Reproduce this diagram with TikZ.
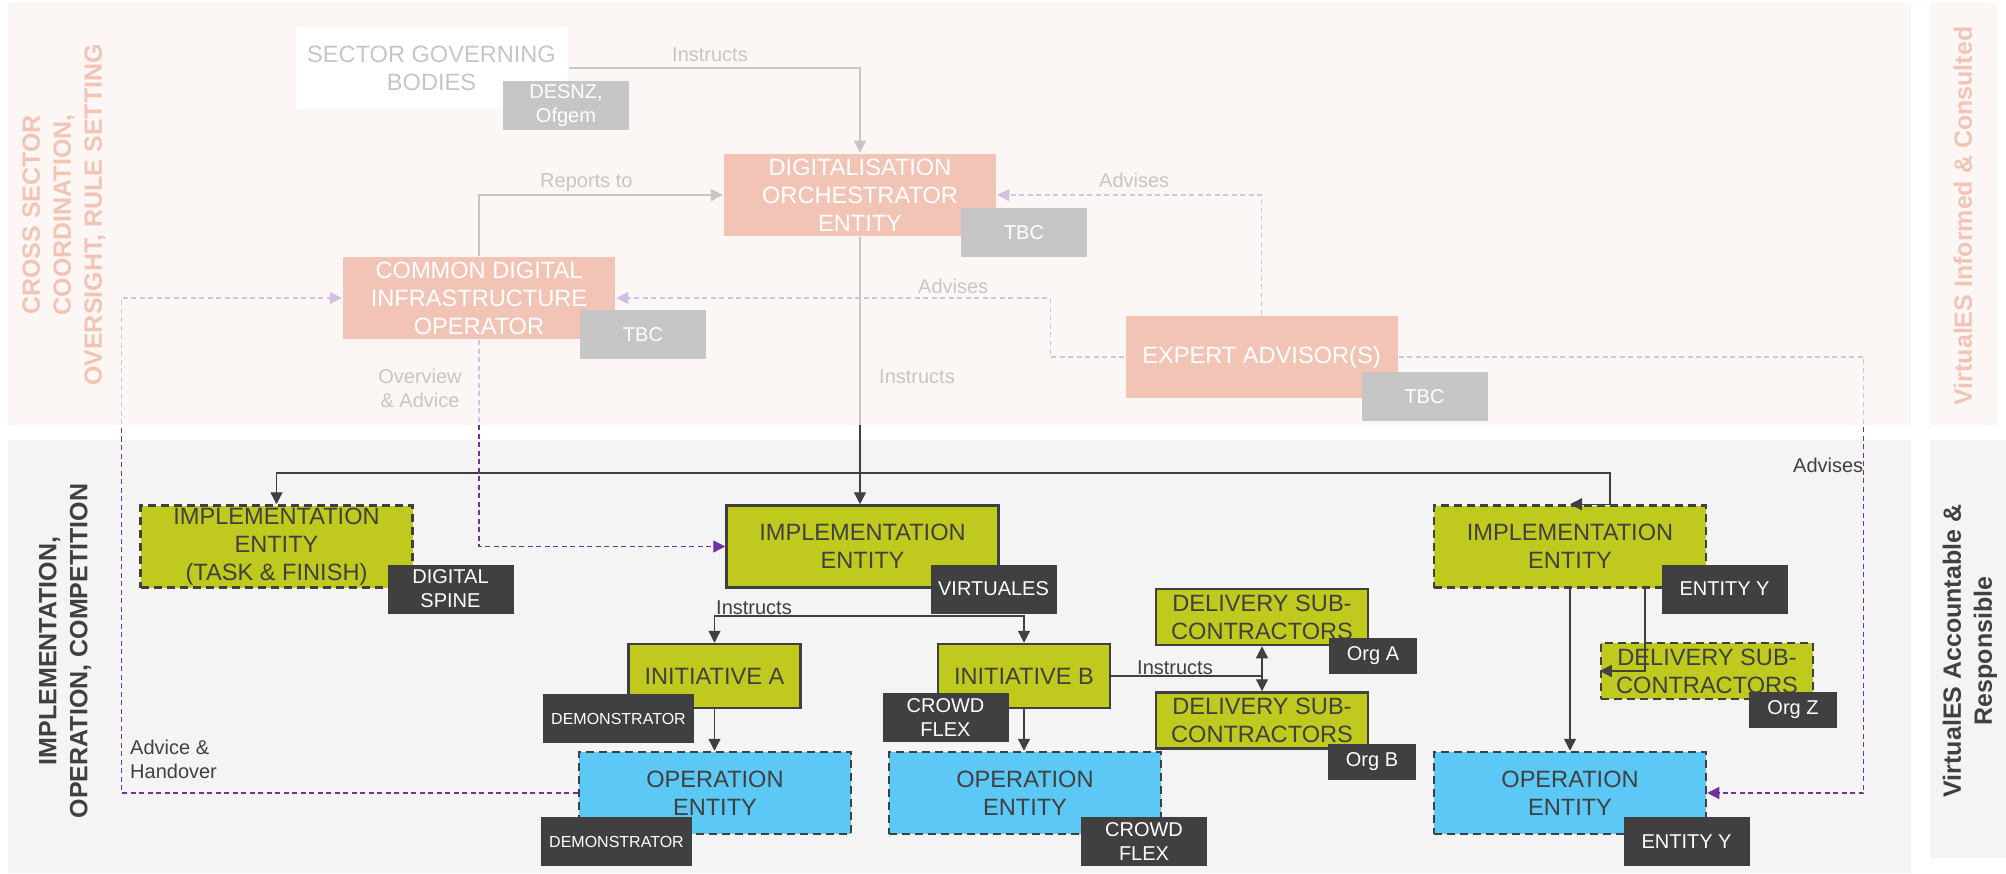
\documentclass[tikz,border=0pt]{standalone}
\usepackage{fontspec}
\setmainfont{Liberation Sans}
\usetikzlibrary{arrows.meta}

\definecolor{entlime}{RGB}{192,202,30}
\definecolor{entblue}{RGB}{91,200,245}
\definecolor{darkgrey}{RGB}{64,64,64}
\definecolor{advpurple}{RGB}{112,48,160}
\definecolor{orch}{RGB}{212,60,10}
\definecolor{panelpink}{RGB}{248,228,222}
\definecolor{panelgrey}{RGB}{244,244,244}

\begin{document}
\begin{tikzpicture}[x=1pt,y=-1pt]
      \tikzstyle{entity}=[fill=entlime, draw=darkgrey, line width=2.5pt, text=darkgrey, inner sep=0pt, minimum width=272pt, minimum height=82pt, align=center, font=\fontsize{23.6}{28}\selectfont]
      \tikzstyle{draft}=[dash pattern=on 8pt off 5pt]
      \tikzstyle{operation}=[entity, fill=entblue, draft]
      \tikzstyle{council}=[entity, draw=none, fill=orch, text=white]
      \tikzstyle{tag}=[fill=darkgrey, text=white, inner sep=0pt, minimum width=126pt, minimum height=49pt, align=center, font=\fontsize{20}{24}\selectfont]
      \tikzstyle{smalltag}=[tag, minimum width=88pt, minimum height=36pt]
      \tikzstyle{demotag}=[tag, minimum width=151pt, font=\fontsize{16}{19}\selectfont]
      \tikzstyle{link}=[draw=darkgrey, line width=1.3pt, -{Triangle[length=12pt,width=12pt]}]
      \tikzstyle{advice}=[link, draw=advpurple, dash pattern=on 5pt off 3.5pt]
      \tikzstyle{note}=[text=darkgrey, inner sep=0pt, font=\fontsize{20}{24}\selectfont]
      \tikzstyle{band}=[rotate=90, align=center, inner sep=0pt, font=\bfseries\fontsize{25}{31}\selectfont]

      \useasboundingbox (0,0) rectangle (2006,874);
      % panels
      \fill[panelpink] (8,3) rectangle (1911,425);
      \fill[panelpink] (1930,3) rectangle (1997,425);
      \fill[panelgrey] (8,440) rectangle (1911,873);
      \fill[panelgrey] (1930,440) rectangle (2006,858);

      \node[band, text=orch] (CrossLbl) at (64,215) {CROSS SECTOR\\COORDINATION,\\OVERSIGHT, RULE SETTING};
      \node[band, text=darkgrey] (ImplLbl) at (65,651) {IMPLEMENTATION,\\OPERATION, COMPETITION};
      \node[band, text=orch] (InfLbl) at (1963,216) {VirtualES Informed \& Consulted};
      \node[band, text=darkgrey] (AccLbl) at (1970,651) {VirtualES Accountable \&\\Responsible};

      % cross sector level
      \node[council, fill=white, text=darkgrey] (Sect) at (431.5,68) {SECTOR GOVERNING\\BODIES};
      \node[tag] (Desnz) at (566,105.5) {DESNZ,\\Ofgem};
      \node[council] (Orch) at (860,195) {DIGITALISATION\\ORCHESTRATOR\\ENTITY};
      \node[tag] (TbcOrch) at (1024,232.5) {TBC};
      \node[council] (Cdio) at (479,298) {COMMON DIGITAL\\INFRASTRUCTURE\\OPERATOR};
      \node[tag] (TbcCdio) at (643,334.5) {TBC};
      \node[council] (Expert) at (1261.5,357) {EXPERT ADVISOR(S)};
      \node[tag] (TbcExp) at (1424.5,396.5) {TBC};

      % implementation level
      \node[entity, draft] (ImplTF) at (276.5,546.5) {IMPLEMENTATION\\ENTITY\\(TASK \& FINISH)};
      \node[tag] (Spine) at (450.5,589) {DIGITAL\\SPINE};
      \node[entity] (ImplV) at (862.5,546.5) {IMPLEMENTATION\\ENTITY};
      \node[tag] (Virt) at (993.5,589) {VIRTUALES};
      \node[entity, draft] (ImplY) at (1570,546.5) {IMPLEMENTATION\\ENTITY};
      \node[tag] (EntY) at (1724.5,589) {ENTITY Y};
      \node[entity, minimum width=172pt, minimum height=64pt] (InitA) at (714.5,676) {INITIATIVE A};
      \node[demotag] (DemoA) at (618.5,718.5) {DEMONSTRATOR};
      \node[entity, minimum width=172pt, minimum height=64pt] (InitB) at (1024,676) {INITIATIVE B};
      \node[tag] (CrowdB) at (945.5,717.5) {CROWD\\FLEX};
      \node[operation] (OpA) at (715,793) {OPERATION\\ENTITY};
      \node[demotag] (DemoOp) at (616.5,841.5) {DEMONSTRATOR};
      \node[operation] (OpB) at (1025,793) {OPERATION\\ENTITY};
      \node[tag] (CrowdOp) at (1144,841.5) {CROWD\\FLEX};
      \node[operation] (OpY) at (1570,793) {OPERATION\\ENTITY};
      \node[tag] (EntYOp) at (1686.5,841.5) {ENTITY Y};
      \node[entity, minimum width=212pt, minimum height=56pt] (DelA) at (1262,617) {DELIVERY SUB-\\CONTRACTORS};
      \node[smalltag] (OrgA) at (1373,656) {Org A};
      \node[entity, minimum width=212pt, minimum height=56pt] (DelB) at (1262,720.5) {DELIVERY SUB-\\CONTRACTORS};
      \node[smalltag] (OrgB) at (1372,761.5) {Org B};
      \node[entity, draft, minimum width=212pt, minimum height=56pt] (DelZ) at (1707,671) {DELIVERY SUB-\\CONTRACTORS};
      \node[smalltag] (OrgZ) at (1793,710) {Org Z};

      % connectors
      \coordinate (Split) at (860,473);
      \coordinate (Fork) at (862,616);
      \draw[link] (Sect.east) -| (Orch.north);
      \draw[link] (Cdio.north) |- (Orch.west);
      \draw[advice] (Expert.north) |- (Orch.east);
      \draw[advice] (Expert.west) -- ++(-74,0) |- (Cdio.east);
      \draw[advice] (Expert.east) -- ++(465,0) |- (OpY.east);
      \draw[link] (Orch.south) -- (Orch.south |- ImplV.north);
      \draw[link] (Split) -| (ImplTF.north);
      \draw[link] (Split) -| ([xshift=40]ImplY.north) -- (ImplY.north);
      \draw[advice] (Cdio.south) |- (ImplV.west);
      \draw[advice] (OpA.west) -- ++(-456,0) |- (Cdio.west);
      \draw[link] (Fork) -| (InitA.north);
      \draw[link] (Fork) -| (InitB.north);
      \draw[link] (InitA.south) -- (InitA.south |- OpA.north);
      \draw[link] (InitB.south) -- (InitB.south |- OpB.north);
      \draw[link] (InitB.east) -| (DelA.south);
      \draw[link] (InitB.east) -| (DelB.north);
      \draw[link] (ImplY.south) -- (OpY.north);
      \draw[link] ([xshift=75]ImplY.south) |- (DelZ.west);

      % connector texts
      \node[note, anchor=base west] (TxtSect) at (672,62) {Instructs};
      \node[note, anchor=base west] (TxtReports) at (540,188) {Reports to};
      \node[note, anchor=base west] (TxtAdvOrch) at (1099,188) {Advises};
      \node[note, anchor=base west] (TxtAdvCdio) at (918,294) {Advises};
      \node[note, anchor=base west] (TxtOrch) at (879,384) {Instructs};
      \node[note, align=center] (TxtOverview) at (420,388) {Overview\\\& Advice};
      \node[note, align=left, anchor=west] (TxtHandover) at (130,759) {Advice \&\\Handover};
      \node[note, anchor=base west] (TxtInit) at (716,614) {Instructs};
      \node[note, anchor=base west] (TxtDel) at (1137,674) {Instructs};
      \node[note, anchor=base west] (TxtAdvY) at (1793,472) {Advises};

      % faded cross sector level
      \fill[white, opacity=0.7] (8,3) rectangle (1911,425);
      \fill[white, opacity=0.7] (1930,3) rectangle (1997,425);
\end{tikzpicture}
\end{document}
